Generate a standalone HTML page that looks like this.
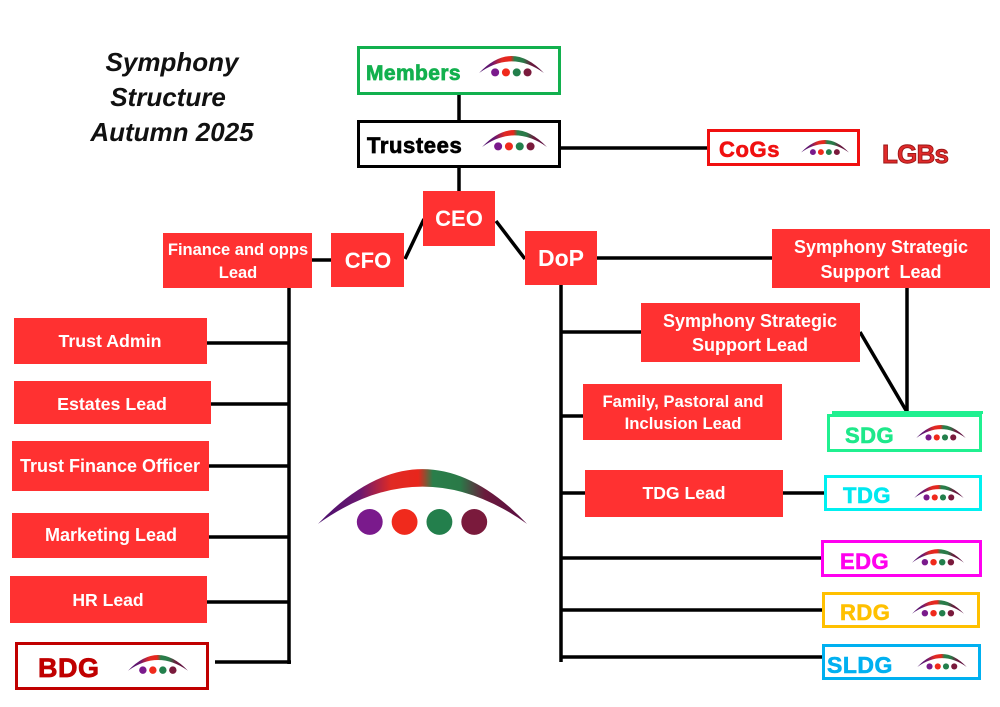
<!DOCTYPE html>
<html><head><meta charset="utf-8"><style>
html,body{margin:0;padding:0;background:#fff;}
svg{display:block;}
</style></head><body>
<svg width="1000" height="707" viewBox="0 0 1000 707" xmlns="http://www.w3.org/2000/svg" font-family="'Liberation Sans', Arial, sans-serif">
<defs>
<linearGradient id="ag" x1="0" y1="0" x2="1" y2="0">
<stop offset="0" stop-color="#4a0f6e"/>
<stop offset="0.2" stop-color="#6a1870"/>
<stop offset="0.35" stop-color="#e02a24"/>
<stop offset="0.48" stop-color="#e8261c"/>
<stop offset="0.55" stop-color="#2a7e4a"/>
<stop offset="0.68" stop-color="#2a7a48"/>
<stop offset="0.8" stop-color="#6a1a3c"/>
<stop offset="1" stop-color="#5a0f44"/>
</linearGradient>
<symbol id="logo" viewBox="0 0 210 68">
<path d="M0 55 Q105 -55 210 55 Q105 -20 0 55 Z" fill="url(#ag)"/>
<circle cx="52" cy="53" r="13" fill="#7a1a8c"/>
<circle cx="87" cy="53" r="13" fill="#f02a1c"/>
<circle cx="122" cy="53" r="13" fill="#237f4c"/>
<circle cx="157" cy="53" r="13" fill="#7a1a3c"/>
</symbol>
</defs>

<!-- Title -->
<g font-weight="bold" font-style="italic" font-size="26" fill="#111" text-anchor="middle">
<text x="172" y="71">Symphony</text>
<text x="168" y="106">Structure</text>
<text x="172" y="141">Autumn 2025</text>
</g>

<!-- connectors -->
<g stroke="#000" stroke-width="3.5" fill="none">
<line x1="459" y1="95" x2="459" y2="120"/>
<line x1="459" y1="168" x2="459" y2="191"/>
<line x1="561" y1="148" x2="707" y2="148"/>
<line x1="424" y1="219" x2="405" y2="259"/>
<line x1="496" y1="221" x2="525" y2="259"/>
<line x1="312" y1="260" x2="331" y2="260"/>
<line x1="289" y1="288" x2="289" y2="664"/>
<line x1="207" y1="343" x2="289" y2="343"/>
<line x1="211" y1="404" x2="289" y2="404"/>
<line x1="209" y1="466" x2="289" y2="466"/>
<line x1="209" y1="537" x2="289" y2="537"/>
<line x1="207" y1="602" x2="289" y2="602"/>
<line x1="215" y1="662" x2="291" y2="662"/>
<line x1="597" y1="258" x2="772" y2="258"/>
<line x1="561" y1="285" x2="561" y2="662"/>
<line x1="907" y1="288" x2="907" y2="412"/>
<line x1="561" y1="332" x2="641" y2="332"/>
<line x1="860" y1="332" x2="907" y2="412"/>
<line x1="561" y1="416" x2="585" y2="416"/>
<line x1="561" y1="493" x2="585" y2="493"/>
<line x1="783" y1="493" x2="825" y2="493"/>
<line x1="561" y1="558" x2="821" y2="558"/>
<line x1="561" y1="610" x2="822" y2="610"/>
<line x1="561" y1="657" x2="822" y2="657"/>
</g>

<!-- Members -->
<rect x="358.5" y="47.5" width="201" height="46" fill="#fff" stroke="#12b04e" stroke-width="3"/>
<text x="366" y="80" font-size="21" font-weight="bold" fill="#12b04e" stroke="#12b04e" stroke-width="0.7" letter-spacing="0.4">Members</text>
<use href="#logo" x="479" y="56" width="65" height="21"/>

<!-- Trustees -->
<rect x="358.5" y="121.5" width="201" height="45" fill="#fff" stroke="#000" stroke-width="3"/>
<text x="367" y="153" font-size="22" font-weight="bold" fill="#000" stroke="#000" stroke-width="0.7" letter-spacing="0.6">Trustees</text>
<use href="#logo" x="482" y="130" width="65" height="21"/>

<!-- CoGs -->
<rect x="708.5" y="130.5" width="150" height="34" fill="#fff" stroke="#f01010" stroke-width="3"/>
<text x="719" y="157" font-size="22" font-weight="bold" fill="#f01010" stroke="#f01010" stroke-width="0.6" letter-spacing="0.6">CoGs</text>
<use href="#logo" x="801" y="140" width="48" height="15.5"/>
<text x="882" y="163" font-size="26" font-weight="bold" fill="#e02a2a" stroke="#9a1515" stroke-width="0.9" letter-spacing="-0.8">LGBs</text>

<!-- Red boxes -->
<g fill="#ff3131">
<rect x="423" y="191" width="72" height="55"/>
<rect x="331" y="233" width="73" height="54"/>
<rect x="525" y="231" width="72" height="54"/>
<rect x="163" y="233" width="149" height="55"/>
<rect x="772" y="229" width="218" height="59"/>
<rect x="641" y="303" width="219" height="59"/>
<rect x="583" y="384" width="199" height="56"/>
<rect x="585" y="470" width="198" height="47"/>
<rect x="14" y="318" width="193" height="46"/>
<rect x="14" y="381" width="197" height="43"/>
<rect x="12" y="441" width="197" height="50"/>
<rect x="12" y="513" width="197" height="45"/>
<rect x="10" y="576" width="197" height="47"/>
</g>
<g fill="#fff" font-weight="bold" text-anchor="middle">
<text x="459" y="226" font-size="22">CEO</text>
<text x="368" y="268" font-size="22">CFO</text>
<text x="561" y="266" font-size="23">DoP</text>
<text x="238" y="255" font-size="16.5">Finance and opps</text>
<text x="238" y="278" font-size="16.5">Lead</text>
<text x="881" y="253" font-size="18">Symphony Strategic</text>
<text x="881" y="278" font-size="18" xml:space="preserve">Support  Lead</text>
<text x="750" y="327" font-size="18">Symphony Strategic</text>
<text x="750" y="351" font-size="18">Support Lead</text>
<text x="683" y="407" font-size="16.7">Family, Pastoral and</text>
<text x="683" y="429" font-size="16.7">Inclusion Lead</text>
<text x="684" y="499" font-size="17.6">TDG Lead</text>
<text x="110" y="347" font-size="17.8">Trust Admin</text>
<text x="112" y="410" font-size="17.8">Estates Lead</text>
<text x="110" y="472" font-size="18">Trust Finance Officer</text>
<text x="111" y="541" font-size="18">Marketing Lead</text>
<text x="108" y="606" font-size="17.6">HR Lead</text>
</g>

<!-- BDG -->
<rect x="16.5" y="643.5" width="191" height="45" fill="#fff" stroke="#c00000" stroke-width="3"/>
<text x="38" y="677" font-size="27" font-weight="bold" fill="#c00000" stroke="#c00000" stroke-width="0.7" letter-spacing="0.5">BDG</text>
<use href="#logo" x="128" y="655" width="60" height="19.4"/>

<!-- SDG -->
<rect x="832" y="411" width="151" height="3" fill="#20f090"/>
<rect x="828.5" y="415.5" width="152" height="35" fill="#fff" stroke="#20f090" stroke-width="3"/>
<text x="845" y="443" font-size="22" font-weight="bold" fill="#1ee88a" stroke="#1ee88a" stroke-width="0.6" letter-spacing="0.5">SDG</text>
<use href="#logo" x="916" y="425" width="50" height="16"/>

<!-- TDG -->
<rect x="825.5" y="476.5" width="155" height="33" fill="#fff" stroke="#00f0f0" stroke-width="3"/>
<text x="843" y="503" font-size="22" font-weight="bold" fill="#00e8f0" stroke="#00e8f0" stroke-width="0.6" letter-spacing="0.5">TDG</text>
<use href="#logo" x="914" y="485" width="50" height="16"/>

<!-- EDG -->
<rect x="822.5" y="541.5" width="158" height="34" fill="#fff" stroke="#ff00f0" stroke-width="3"/>
<text x="840" y="569" font-size="22" font-weight="bold" fill="#ff00ee" stroke="#ff00ee" stroke-width="0.6" letter-spacing="0.5">EDG</text>
<use href="#logo" x="912" y="549" width="52" height="17"/>

<!-- RDG -->
<rect x="823.5" y="593.5" width="155" height="33" fill="#fff" stroke="#ffc000" stroke-width="3"/>
<text x="840" y="620" font-size="22" font-weight="bold" fill="#ffc000" stroke="#ffc000" stroke-width="0.6" letter-spacing="0.5">RDG</text>
<use href="#logo" x="912" y="600" width="52" height="17"/>

<!-- SLDG -->
<rect x="823.5" y="645.5" width="156" height="33" fill="#fff" stroke="#00b0f0" stroke-width="3"/>
<text x="827" y="673" font-size="23" font-weight="bold" fill="#00b0f0" stroke="#00b0f0" stroke-width="0.6" letter-spacing="0.5">SLDG</text>
<use href="#logo" x="917" y="654" width="50" height="16"/>

<!-- Big logo -->
<use href="#logo" x="318" y="469" width="209" height="68"/>
</svg>
</body></html>
